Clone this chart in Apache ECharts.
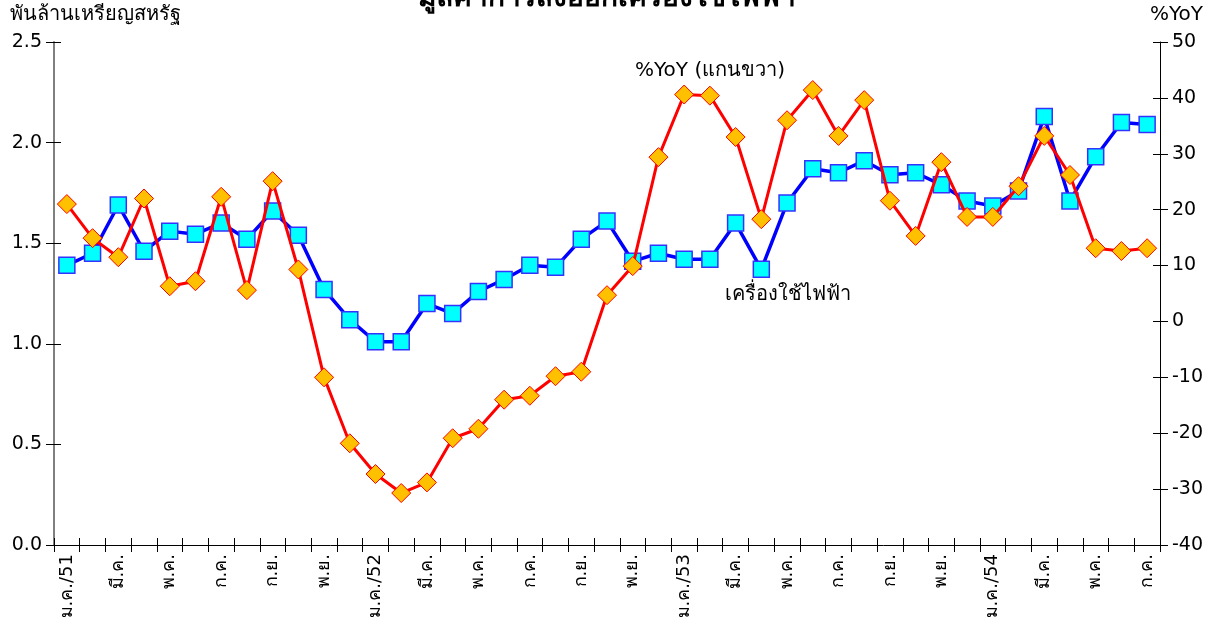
<!DOCTYPE html>
<html><head><meta charset="utf-8">
<script src="https://cdn.jsdelivr.net/npm/echarts@6/dist/echarts.min.js"></script>
<style>html,body{margin:0;padding:0;background:#fff}#c{width:1214px;height:637px}</style>
</head><body><div id="c"></div>
<script>
const months = ['ม.ค.','ก.พ.','มี.ค.','เม.ย.','พ.ค.','มิ.ย.','ก.ค.','ส.ค.','ก.ย.','ต.ค.','พ.ย.','ธ.ค.'];
const years = ['51','52','53','54'];
const categories = [];
years.forEach(function(y){ months.forEach(function(m,i){ categories.push(i===0 ? m+'/'+y : m); }); });
categories.length = 43;
const exportValue = [1.39,1.45,1.69,1.46,1.56,1.545,1.60,1.52,1.66,1.54,1.27,1.12,1.01,1.01,1.20,1.15,1.26,1.32,1.39,1.38,1.52,1.61,1.41,1.45,1.42,1.42,1.60,1.37,1.70,1.87,1.85,1.91,1.84,1.85,1.79,1.71,1.685,1.76,2.13,1.71,1.93,2.10,2.09];
const yoy = [21.0,14.9,11.5,22.0,6.3,7.2,22.3,5.6,25.1,9.3,-10.0,-21.8,-27.3,-30.7,-28.8,-20.9,-19.2,-14.0,-13.3,-9.8,-9.0,4.7,9.9,29.4,40.6,40.4,33.0,18.3,36.0,41.4,33.2,39.6,21.6,15.3,28.5,18.7,18.7,24.2,33.2,26.2,13.1,12.6,13.1];
const leftTicks = {min:0, max:2.5, interval:0.5};
const rightTicks = {min:-40, max:50, interval:10};
const FONT = 'Tahoma, "DejaVu Sans", "Noto Sans", sans-serif';

function innerTickAxisY(pos, t){
  return {type:'value', min:t.min, max:t.max, interval:t.interval, position:pos, offset:0,
    axisLine:{show:false, onZero:false}, axisLabel:{show:false}, splitLine:{show:false},
    axisTick:{show:true, inside:true, length:7, lineStyle:{color:'#000'}}};
}

const chart = echarts.init(document.getElementById('c'));
chart.setOption({
  animation:false,
  backgroundColor:'#fff',
  textStyle:{fontFamily:FONT},
  title:{text:'มูลค่าการส่งออกเครื่องใช้ไฟฟ้า', left:'center', top:-20, textStyle:{fontFamily:FONT, fontSize:28, fontWeight:'bold', color:'#000'}},
  grid:{left:54, right:54, top:42, bottom:92},
  graphic:[
    {type:'text', left:10, top:5, style:{text:'พันล้านเหรียญสหรัฐ', font:'20px '+FONT, fill:'#000'}},
    {type:'text', left:1150, top:5, style:{text:'%YoY', font:'20px '+FONT, fill:'#000'}},
    {type:'text', left:635, top:61, style:{text:'%YoY (แกนขวา)', font:'20px '+FONT, fill:'#000'}},
    {type:'text', left:725, top:285, style:{text:'เครื่องใช้ไฟฟ้า', font:'20px '+FONT, fill:'#000'}}
  ],
  xAxis:[
    {type:'category', data:categories, boundaryGap:true, position:'bottom',
      axisLine:{onZero:false, lineStyle:{color:'#000', width:1}},
      axisTick:{show:true, interval:0, length:7, lineStyle:{color:'#000'}},
      axisLabel:{interval:1, rotate:90, fontSize:18, color:'#000', fontFamily:FONT, margin:9}
    },
    {type:'category', data:categories, boundaryGap:true, position:'bottom', offset:0,
      axisLine:{show:false, onZero:false}, axisLabel:{show:false},
      axisTick:{show:true, inside:true, interval:0, length:7, lineStyle:{color:'#000'}}
    }
  ],
  yAxis:[
    {type:'value', min:leftTicks.min, max:leftTicks.max, interval:leftTicks.interval, position:'left',
      axisLine:{show:true, onZero:false, lineStyle:{color:'#808080', width:2}},
      axisTick:{show:true, length:8, lineStyle:{color:'#000'}},
      splitLine:{show:false},
      axisLabel:{fontSize:19, color:'#000', fontFamily:FONT, margin:12, formatter:function(v){return v.toFixed(1);}}
    },
    {type:'value', min:rightTicks.min, max:rightTicks.max, interval:rightTicks.interval, position:'right',
      axisLine:{show:true, onZero:false, lineStyle:{color:'#000', width:1}},
      axisTick:{show:true, length:8, lineStyle:{color:'#000'}},
      splitLine:{show:false},
      axisLabel:{fontSize:19, color:'#000', fontFamily:FONT, margin:12}
    },
    innerTickAxisY('left', leftTicks),
    innerTickAxisY('right', rightTicks)
  ],
  series:[
    {name:'เครื่องใช้ไฟฟ้า', type:'line', xAxisIndex:0, yAxisIndex:0, data:exportValue, symbol:'rect', symbolSize:16, showAllSymbol:true,
      lineStyle:{color:'#0000FF', width:3.5}, itemStyle:{color:'#00FFFF', borderColor:'#3333FF', borderWidth:1.5}, z:2},
    {name:'%YoY', type:'line', xAxisIndex:0, yAxisIndex:1, data:yoy, symbol:'diamond', symbolSize:[19,19], showAllSymbol:true,
      lineStyle:{color:'#FF0000', width:3}, itemStyle:{color:'#FFC000', borderColor:'#FF0000', borderWidth:1}, z:3}
  ]
});
</script></body></html>
